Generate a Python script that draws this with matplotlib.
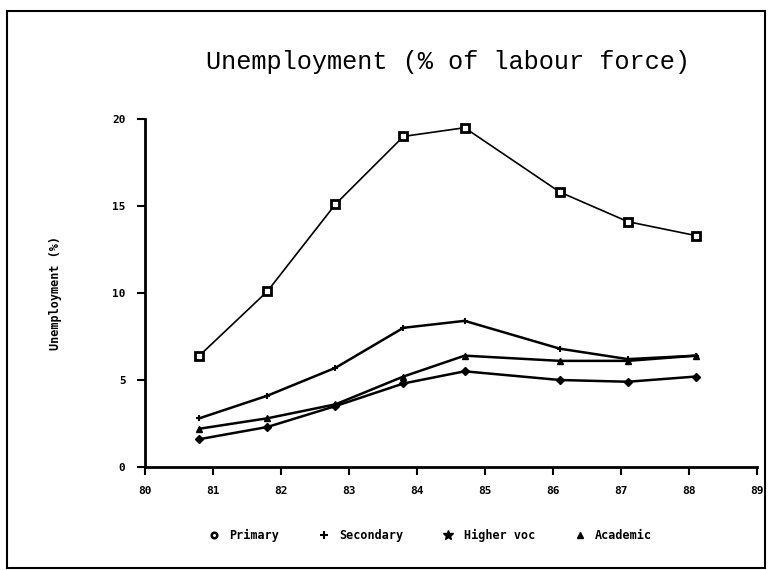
import numpy as np
import matplotlib.pyplot as plt
from matplotlib.lines import Line2D
from matplotlib.patches import Rectangle

# data
years = [80.8, 81.8, 82.8, 83.8, 84.7, 86.1, 87.1, 88.1]
primary = [6.4, 10.1, 15.1, 19.0, 19.5, 15.8, 14.1, 13.3]
secondary = [2.8, 4.1, 5.7, 8.0, 8.4, 6.8, 6.2, 6.4]
higher_voc = [1.6, 2.3, 3.5, 4.8, 5.5, 5.0, 4.9, 5.2]
academic = [2.2, 2.8, 3.6, 5.2, 6.4, 6.1, 6.1, 6.4]

xticks = list(range(80, 90))
yticks = [0, 5, 10, 15, 20]

mono = 'DejaVu Sans Mono'

fig = plt.figure(figsize=(7.68, 5.70), dpi=100)
ax = fig.add_axes([0.1888, 0.1807, 0.797, 0.6105])

ax.plot(years, primary, color='black', lw=1.2, marker='s', ms=6,
        mfc='white', mec='black', mew=2)
ax.plot(years, secondary, color='black', lw=1.8, marker='+', ms=5, mew=1.5)
ax.plot(years, higher_voc, color='black', lw=1.8, marker='D', ms=4)
ax.plot(years, academic, color='black', lw=1.8, marker='^', ms=5)

ax.set_xlim(80, 89)
ax.set_ylim(0, 20)
ax.set_xticks(xticks)
ax.set_xticklabels([str(v) for v in xticks], family=mono, weight='bold', fontsize=8)
ax.set_yticks(yticks)
ax.set_yticklabels([str(v) for v in yticks], family=mono, weight='bold', fontsize=8)
ax.tick_params(direction='out', length=6, width=1.5, pad=8)

for s in ['top', 'right']:
    ax.spines[s].set_visible(False)
ax.spines['left'].set_linewidth(2)
ax.spines['bottom'].set_linewidth(2)

ax.set_ylabel('Unemployment (%)', family=mono, weight='bold', fontsize=8.5, labelpad=36)

fig.text(0.583, 0.891, 'Unemployment (% of labour force)', family='Liberation Mono',
         fontsize=18.2, ha='center', va='center')

handles = [Line2D([], [], ls='none', marker='o', ms=4, mfc='white', mec='black', mew=1.8, color='black'),
           Line2D([], [], ls='none', marker='+', ms=6, mew=1.5, color='black'),
           Line2D([], [], ls='none', marker='*', ms=7, color='black'),
           Line2D([], [], ls='none', marker='^', ms=5, color='black')]
names = ['Primary', 'Secondary', 'Higher voc', 'Academic']
fig.legend(handles, names, loc='center', bbox_to_anchor=(0.56, 0.061), ncol=4,
           frameon=False, handlelength=1, handletextpad=0.8, columnspacing=3.3,
           prop={'family': mono, 'weight': 'bold', 'size': 8.5})

# outer frame of the page
fig.patches.append(Rectangle((7 / 768, 0.003), 758 / 768, 1 - 11 / 570 - 0.003,
                             transform=fig.transFigure, fill=False, lw=1.5, color='black'))

fig.savefig('out.png', dpi=100)
